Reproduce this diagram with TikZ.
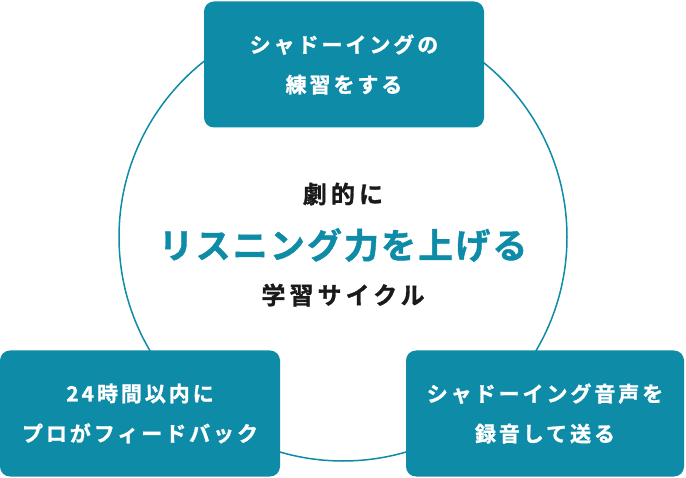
\documentclass[tikz,border=0pt]{standalone}
\usepackage{fontspec}
\usepackage{xcolor}
\usepackage{tikz}
\setmainfont{Noto Sans CJK JP}[BoldFont={Noto Sans CJK JP Bold}]
\newfontfamily\jpEtape{Noto Sans CJK JP}[BoldFont={Noto Sans CJK JP Bold},LetterSpace=14,BoldFeatures={FakeBold=1.2}]
\newfontfamily\jpPetit{Noto Sans CJK JP}[BoldFont={Noto Sans CJK JP Bold},LetterSpace=17,BoldFeatures={FakeBold=1.2}]
\newfontfamily\jpTitre{Noto Sans CJK JP}[BoldFont={Noto Sans CJK JP Bold},LetterSpace=6,BoldFeatures={FakeBold=1.2}]
\definecolor{bleuCanard}{RGB}{14,139,167}
\definecolor{noirTexte}{RGB}{26,26,26}
\tikzset{
Cercle/.style={
 circle, 
 draw=bleuCanard, 
 line width=1.5pt, 
 minimum size=448pt, 
 inner sep=0pt
 },
Etape/.style={
 rectangle, 
 rounded corners=10pt, 
 fill=bleuCanard, 
 text=white, 
 align=center, 
 inner sep=0pt, 
 minimum height=126pt, 
 font=\jpEtape\bfseries\fontsize{21pt}{40pt}\selectfont
 },
PetitTitre/.style={
 text=noirTexte, 
 inner sep=0pt, 
 font=\jpPetit\bfseries\fontsize{24pt}{28pt}\selectfont
 },
GrandTitre/.style={
 text=bleuCanard, 
 inner sep=0pt, 
 font=\jpTitre\bfseries\fontsize{35pt}{40pt}\selectfont
 }
}
\begin{document}
\begin{tikzpicture}[x=1pt,y=-1pt]
\useasboundingbox (0,0) rectangle (686,478);
\node[Cercle] (cycle) at (343,237) {};
\node[Etape,minimum width=280pt] (shadow) at (344,64.5) {シャドーイングの\\練習をする};
\node[Etape,minimum width=280pt] (retour) at (140,413.5) {24時間以内に\\プロがフィードバック};
\node[Etape,minimum width=278pt] (envoi) at (545,413.5) {シャドーイング音声を\\録音して送る};
\node[GrandTitre] (but) at (cycle.center) [yshift=-8pt] {リスニング力を上げる};
\node[PetitTitre] (haut) at (343,194) {劇的に};
\node[PetitTitre] (bas) at (343,295) {学習サイクル};
\end{tikzpicture}
\end{document}
